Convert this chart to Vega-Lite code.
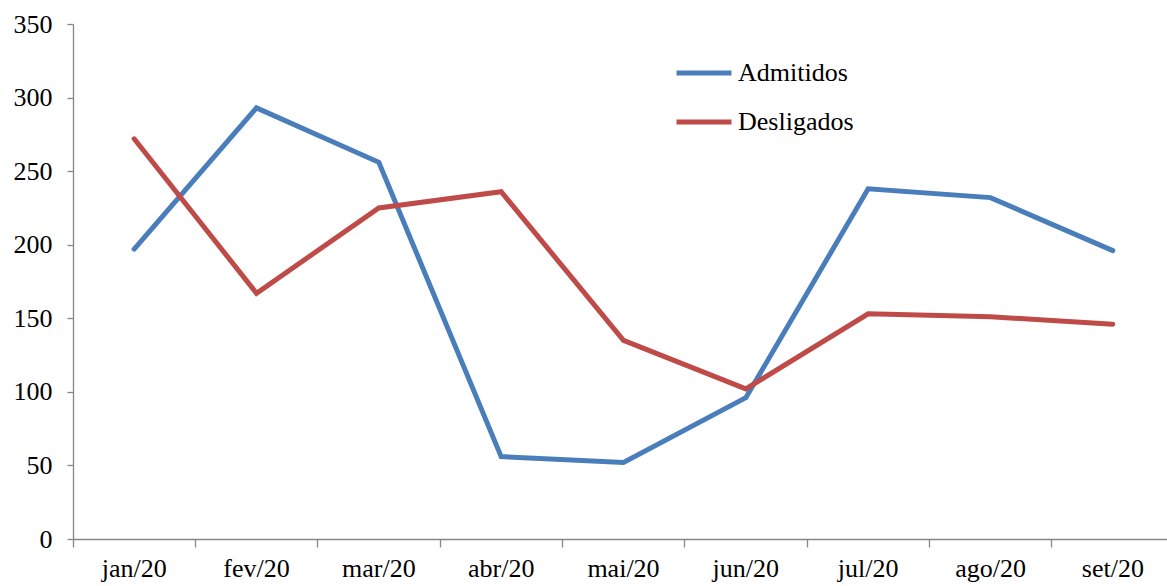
{
  "$schema": "https://vega.github.io/schema/vega-lite/v6.json",
  "width": 1101,
  "height": 515,
  "autosize": {"type": "none"},
  "padding": {"left": 73, "top": 24, "right": 0, "bottom": 47},
  "background": "white",
  "config": {
    "view": {"stroke": null},
    "font": "Liberation Serif",
    "axis": {"grid": false, "domainColor": "#868686", "tickColor": "#868686", "domainWidth": 1.3, "tickWidth": 1.3, "labelFont": "Liberation Serif", "labelFontSize": 26, "labelColor": "black", "title": null}
  },
  "data": {
    "values": [
      {"mes": "jan/20", "serie": "Admitidos", "valor": 197},
      {"mes": "fev/20", "serie": "Admitidos", "valor": 293},
      {"mes": "mar/20", "serie": "Admitidos", "valor": 256},
      {"mes": "abr/20", "serie": "Admitidos", "valor": 56},
      {"mes": "mai/20", "serie": "Admitidos", "valor": 52},
      {"mes": "jun/20", "serie": "Admitidos", "valor": 96},
      {"mes": "jul/20", "serie": "Admitidos", "valor": 238},
      {"mes": "ago/20", "serie": "Admitidos", "valor": 232},
      {"mes": "set/20", "serie": "Admitidos", "valor": 196},
      {"mes": "jan/20", "serie": "Desligados", "valor": 272},
      {"mes": "fev/20", "serie": "Desligados", "valor": 167},
      {"mes": "mar/20", "serie": "Desligados", "valor": 225},
      {"mes": "abr/20", "serie": "Desligados", "valor": 236},
      {"mes": "mai/20", "serie": "Desligados", "valor": 135},
      {"mes": "jun/20", "serie": "Desligados", "valor": 102},
      {"mes": "jul/20", "serie": "Desligados", "valor": 153},
      {"mes": "ago/20", "serie": "Desligados", "valor": 151},
      {"mes": "set/20", "serie": "Desligados", "valor": 146}
    ]
  },
  "mark": {"type": "line", "strokeWidth": 5, "strokeCap": "round", "strokeJoin": "miter"},
  "encoding": {
    "x": {
      "field": "mes", "type": "ordinal",
      "sort": ["jan/20", "fev/20", "mar/20", "abr/20", "mai/20", "jun/20", "jul/20", "ago/20", "set/20"],
      "scale": {"type": "band", "paddingInner": 0, "paddingOuter": 0},
      "bandPosition": 0.5,
      "axis": {"bandPosition": 0, "labelAngle": 0, "tickSize": 8, "labelPadding": 8, "labelAlign": "center"}
    },
    "y": {
      "field": "valor", "type": "quantitative",
      "scale": {"domain": [0, 350], "nice": false, "zero": true},
      "axis": {"values": [0, 50, 100, 150, 200, 250, 300, 350], "tickSize": 6, "labelPadding": 15}
    },
    "color": {
      "field": "serie", "type": "nominal",
      "scale": {"domain": ["Admitidos", "Desligados"], "range": ["#4A7EBB", "#BE4B48"]},
      "legend": {
        "title": null, "orient": "none", "legendX": 601, "legendY": 19,
        "symbolType": "stroke", "symbolSize": 3025, "symbolStrokeWidth": 5,
        "labelFontSize": 26, "labelFont": "Liberation Serif", "labelColor": "black",
        "labelOffset": 4, "rowPadding": 6, "padding": 0
      }
    }
  }
}
